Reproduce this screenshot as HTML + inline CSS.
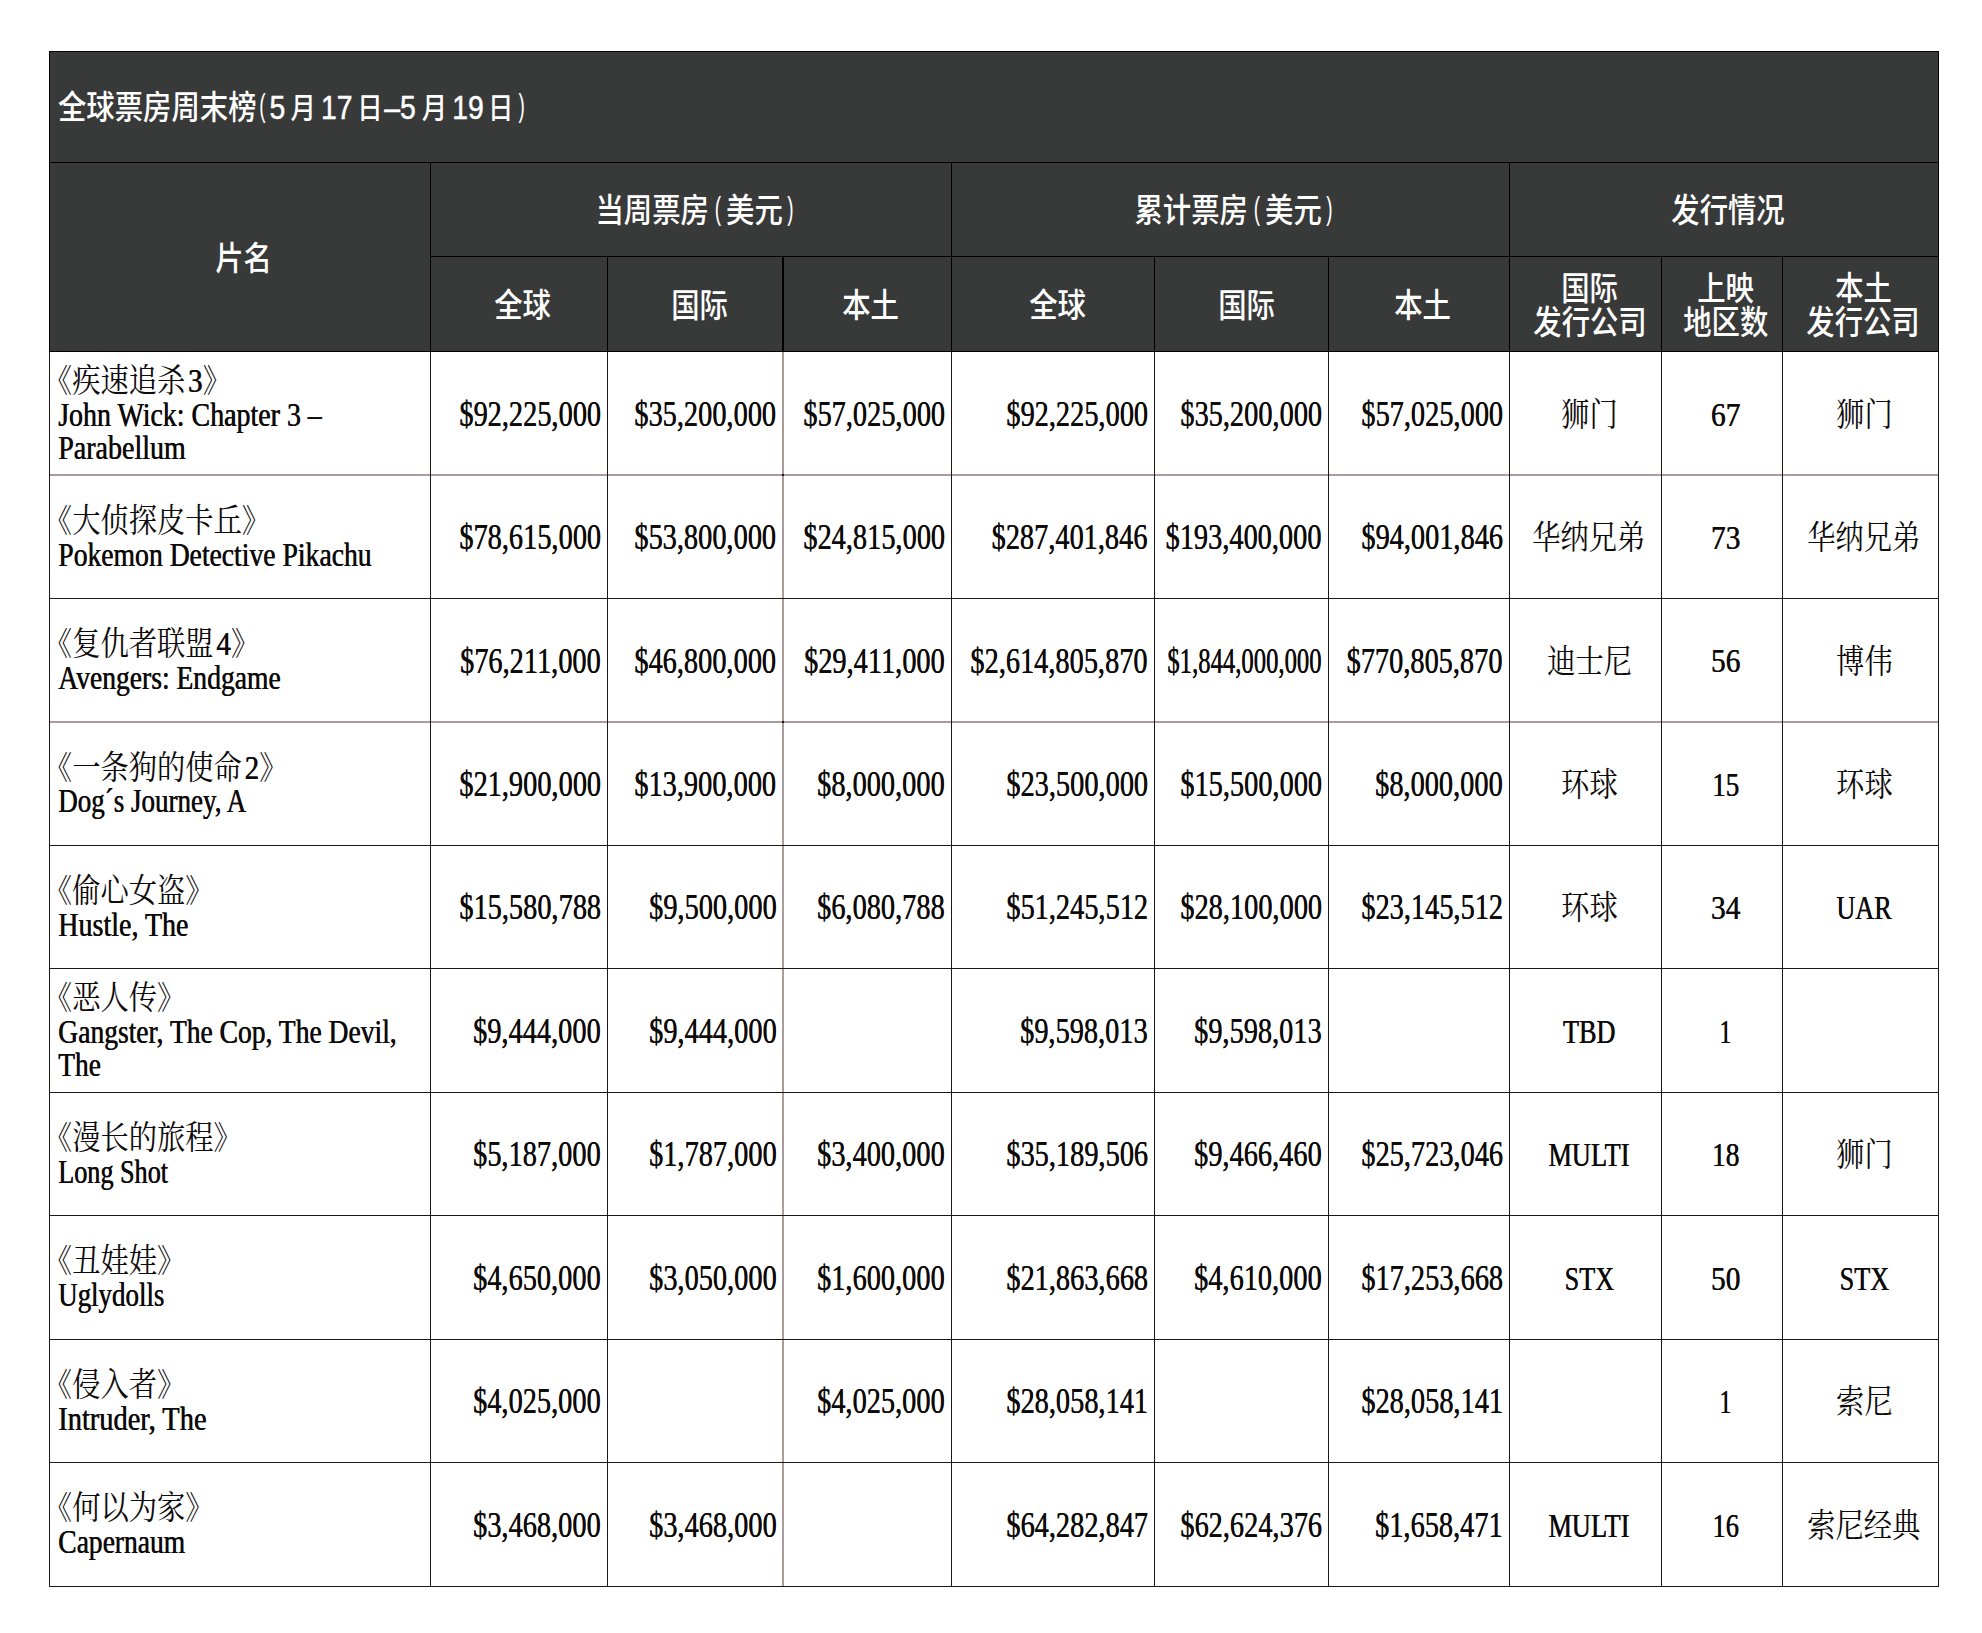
<!DOCTYPE html>
<html lang="zh-CN"><head><meta charset="utf-8"><title>全球票房周末榜</title>
<style>
html,body{margin:0;padding:0;background:#fff}
body{width:1982px;height:1633px;position:relative;overflow:hidden}
.l{position:absolute;background:#1c1818}
.k{position:absolute;background:#000}
.g{position:absolute;background:#aa9c9a}
.hb{position:absolute;background:#383a39}
.t{position:absolute;white-space:nowrap;height:33px;line-height:33px;font-size:33px;color:#0d0a0a;font-family:"Liberation Serif","Noto Serif CJK SC",serif}
.t span{display:inline-block;transform:scaleX(0.835);-webkit-text-stroke:0.0px #0d0a0a;text-shadow:0.6px 0 0 #0d0a0a}
.t b{font-weight:400;font-size:32.4px;line-height:0;font-family:"Noto Serif CJK SC",serif;font-feature-settings:"halt";-webkit-text-stroke:0;text-shadow:none}
.t span.z{transform:scaleX(0.873)}
.t span.z i{font-style:normal;margin:0 .5px 0 3px}
.n{font-size:34.8px}
.n span{transform:scaleX(0.8147);-webkit-text-stroke:0.15px #0d0a0a;text-shadow:0.3px 0 0 #0d0a0a}
.L{text-align:left}.L span{transform-origin:0 50%}
.R{text-align:right}.R span{transform-origin:100% 50%}
.C{text-align:center}.C span{transform-origin:50% 50%}
.h{position:absolute;white-space:nowrap;height:34px;line-height:34px;font-size:32.5px;color:#fff;text-align:center;font-family:"Liberation Sans","Noto Sans CJK SC",sans-serif;font-weight:500}
.h span{display:inline-block;transform:scaleX(0.873);transform-origin:50% 50%}
.h.L{text-align:left}.h.L span{transform-origin:0 50%}
.h i{display:inline-block}
.h u{text-decoration:none;position:relative;top:-3.5px;display:inline-block;transform:scaleX(.7);font-size:31px}
.h em{font-style:normal;-webkit-text-stroke:.5px #fff}
.h small{font-size:29px;margin:0 1.75px}
</style></head><body>
<div class="hb" style="left:49px;top:51px;width:1890px;height:301px"></div>
<div class="g" style="left:49px;top:474px;width:1890px;height:2px"></div>
<div class="g" style="left:49px;top:721px;width:1890px;height:2px"></div>
<div class="g" style="left:782px;top:352px;width:2px;height:1235px"></div>
<div class="k" style="left:49px;top:51px;width:1890px;height:1px"></div>
<div class="k" style="left:49px;top:162px;width:1890px;height:1px"></div>
<div class="k" style="left:430px;top:256px;width:1509px;height:1px"></div>
<div class="k" style="left:49px;top:351px;width:1890px;height:1px"></div>
<div class="l" style="left:49px;top:598px;width:1890px;height:1px"></div>
<div class="l" style="left:49px;top:845px;width:1890px;height:1px"></div>
<div class="l" style="left:49px;top:968px;width:1890px;height:1px"></div>
<div class="l" style="left:49px;top:1092px;width:1890px;height:1px"></div>
<div class="l" style="left:49px;top:1215px;width:1890px;height:1px"></div>
<div class="l" style="left:49px;top:1339px;width:1890px;height:1px"></div>
<div class="l" style="left:49px;top:1462px;width:1890px;height:1px"></div>
<div class="l" style="left:49px;top:1586px;width:1890px;height:1px"></div>
<div class="k" style="left:49px;top:51px;width:1px;height:301px"></div>
<div class="l" style="left:49px;top:352px;width:1px;height:1235px"></div>
<div class="k" style="left:430px;top:162px;width:1px;height:190px"></div>
<div class="l" style="left:430px;top:352px;width:1px;height:1235px"></div>
<div class="k" style="left:607px;top:256px;width:1px;height:96px"></div>
<div class="l" style="left:607px;top:352px;width:1px;height:1235px"></div>
<div class="k" style="left:782px;top:256px;width:2px;height:96px"></div>
<div class="k" style="left:951px;top:162px;width:1px;height:190px"></div>
<div class="l" style="left:951px;top:352px;width:1px;height:1235px"></div>
<div class="k" style="left:1154px;top:256px;width:1px;height:96px"></div>
<div class="l" style="left:1154px;top:352px;width:1px;height:1235px"></div>
<div class="k" style="left:1328px;top:256px;width:1px;height:96px"></div>
<div class="l" style="left:1328px;top:352px;width:1px;height:1235px"></div>
<div class="k" style="left:1509px;top:162px;width:1px;height:190px"></div>
<div class="l" style="left:1509px;top:352px;width:1px;height:1235px"></div>
<div class="k" style="left:1661px;top:256px;width:1px;height:96px"></div>
<div class="l" style="left:1661px;top:352px;width:1px;height:1235px"></div>
<div class="k" style="left:1782px;top:256px;width:1px;height:96px"></div>
<div class="l" style="left:1782px;top:352px;width:1px;height:1235px"></div>
<div class="k" style="left:1938px;top:51px;width:1px;height:301px"></div>
<div class="l" style="left:1938px;top:352px;width:1px;height:1235px"></div>
<div class="l" style="left:782px;top:474px;width:2px;height:2px"></div>
<div class="l" style="left:782px;top:721px;width:2px;height:2px"></div>
<div class="h L" style="left:58px;top:91.2px;width:800px"><span>全球票房周末榜<i style="width:1.1px"></i><u>(</u><i style="width:3.2px"></i><em>5</em><i style="width:4.5px"></i><small>月</small><i style="width:4.1px"></i><em>17</em><i style="width:3.7px"></i><small>日</small><em>–5</em><i style="width:5.1px"></i><small>月</small><i style="width:4.2px"></i><em>19</em><i style="width:3.0px"></i><small>日</small><i style="width:2.5px"></i><u>)</u></span></div>
<div class="h" style="left:-56.3px;top:241.8px;width:600px"><span>片名</span></div>
<div class="h" style="left:395.0px;top:194.2px;width:600px"><span>当周票房<i style="width:4.6px"></i><u>(</u><i style="width:4.6px"></i>美元<i style="width:3.1px"></i><u>)</u></span></div>
<div class="h" style="left:934.3px;top:194.2px;width:600px"><span>累计票房<i style="width:4.6px"></i><u>(</u><i style="width:4.6px"></i>美元<i style="width:3.1px"></i><u>)</u></span></div>
<div class="h" style="left:1427.6px;top:194.2px;width:600px"><span>发行情况</span></div>
<div class="h" style="left:222.9px;top:288.5px;width:600px"><span>全球</span></div>
<div class="h" style="left:399.5px;top:288.5px;width:600px"><span>国际</span></div>
<div class="h" style="left:570.7px;top:288.5px;width:600px"><span>本土</span></div>
<div class="h" style="left:757.3px;top:288.5px;width:600px"><span>全球</span></div>
<div class="h" style="left:946.2px;top:288.5px;width:600px"><span>国际</span></div>
<div class="h" style="left:1122.8px;top:288.5px;width:600px"><span>本土</span></div>
<div class="h" style="left:1290.0px;top:271.7px;width:600px"><span>国际</span></div>
<div class="h" style="left:1290.0px;top:305.7px;width:600px"><span>发行公司</span></div>
<div class="h" style="left:1426.0px;top:271.7px;width:600px"><span>上映</span></div>
<div class="h" style="left:1426.0px;top:305.7px;width:600px"><span>地区数</span></div>
<div class="h" style="left:1563.4px;top:271.7px;width:600px"><span>本土</span></div>
<div class="h" style="left:1563.4px;top:305.7px;width:600px"><span>发行公司</span></div>
<div class="t L" style="left:58.2px;top:364.7px;width:372px"><span class="z"><b>《疾速追杀</b><i>3</i><b>》</b></span></div>
<div class="t L" style="left:57.7px;top:398.5px;width:372px"><span style="transform:scaleX(0.846)">John Wick: Chapter 3 –</span></div>
<div class="t L" style="left:57.7px;top:431.5px;width:372px"><span style="transform:scaleX(0.848)">Parabellum</span></div>
<div class="t n R" style="left:300.7px;top:397.9px;width:300px"><span>$92,225,000</span></div>
<div class="t n R" style="left:476.2px;top:397.9px;width:300px"><span>$35,200,000</span></div>
<div class="t n R" style="left:644.7px;top:397.9px;width:300px"><span>$57,025,000</span></div>
<div class="t n R" style="left:847.7px;top:397.9px;width:300px"><span>$92,225,000</span></div>
<div class="t n R" style="left:1021.7px;top:397.9px;width:300px"><span>$35,200,000</span></div>
<div class="t n R" style="left:1202.7px;top:397.9px;width:300px"><span>$57,025,000</span></div>
<div class="t C" style="left:1389.1px;top:398.7px;width:400px"><span class="z"><b>狮门</b></span></div>
<div class="t C" style="left:1525.6px;top:398.5px;width:400px"><span style="transform:scaleX(0.89)">67</span></div>
<div class="t C" style="left:1664.1px;top:398.7px;width:400px"><span class="z"><b>狮门</b></span></div>
<div class="t L" style="left:58.2px;top:504.7px;width:372px"><span class="z"><b>《大侦探皮卡丘》</b></span></div>
<div class="t L" style="left:57.7px;top:538.5px;width:372px"><span style="transform:scaleX(0.838)">Pokemon Detective Pikachu</span></div>
<div class="t n R" style="left:300.7px;top:521.4px;width:300px"><span>$78,615,000</span></div>
<div class="t n R" style="left:476.2px;top:521.4px;width:300px"><span>$53,800,000</span></div>
<div class="t n R" style="left:644.7px;top:521.4px;width:300px"><span>$24,815,000</span></div>
<div class="t n R" style="left:847.7px;top:521.4px;width:300px"><span>$287,401,846</span></div>
<div class="t n R" style="left:1021.7px;top:521.4px;width:300px"><span>$193,400,000</span></div>
<div class="t n R" style="left:1202.7px;top:521.4px;width:300px"><span>$94,001,846</span></div>
<div class="t C" style="left:1389.1px;top:522.2px;width:400px"><span class="z"><b>华纳兄弟</b></span></div>
<div class="t C" style="left:1525.6px;top:522.0px;width:400px"><span style="transform:scaleX(0.89)">73</span></div>
<div class="t C" style="left:1664.1px;top:522.2px;width:400px"><span class="z"><b>华纳兄弟</b></span></div>
<div class="t L" style="left:58.2px;top:628.0px;width:372px"><span class="z"><b>《复仇者联盟</b><i>4</i><b>》</b></span></div>
<div class="t L" style="left:57.7px;top:661.8px;width:372px"><span style="transform:scaleX(0.836)">Avengers: Endgame</span></div>
<div class="t n R" style="left:300.7px;top:644.6px;width:300px"><span>$76,211,000</span></div>
<div class="t n R" style="left:476.2px;top:644.6px;width:300px"><span>$46,800,000</span></div>
<div class="t n R" style="left:644.7px;top:644.6px;width:300px"><span>$29,411,000</span></div>
<div class="t n R" style="left:847.7px;top:644.6px;width:300px"><span>$2,614,805,870</span></div>
<div class="t n R" style="left:1021.7px;top:644.6px;width:300px"><span style="transform:scaleX(0.709)">$1,844,000,000</span></div>
<div class="t n R" style="left:1202.7px;top:644.6px;width:300px"><span>$770,805,870</span></div>
<div class="t C" style="left:1389.1px;top:645.5px;width:400px"><span class="z"><b>迪士尼</b></span></div>
<div class="t C" style="left:1525.6px;top:645.2px;width:400px"><span style="transform:scaleX(0.89)">56</span></div>
<div class="t C" style="left:1664.1px;top:645.5px;width:400px"><span class="z"><b>博伟</b></span></div>
<div class="t L" style="left:58.2px;top:751.5px;width:372px"><span class="z"><b>《一条狗的使命</b><i>2</i><b>》</b></span></div>
<div class="t L" style="left:57.7px;top:785.2px;width:372px"><span style="transform:scaleX(0.818)">Dog´s Journey, A</span></div>
<div class="t n R" style="left:300.7px;top:768.1px;width:300px"><span>$21,900,000</span></div>
<div class="t n R" style="left:476.2px;top:768.1px;width:300px"><span>$13,900,000</span></div>
<div class="t n R" style="left:644.7px;top:768.1px;width:300px"><span>$8,000,000</span></div>
<div class="t n R" style="left:847.7px;top:768.1px;width:300px"><span>$23,500,000</span></div>
<div class="t n R" style="left:1021.7px;top:768.1px;width:300px"><span>$15,500,000</span></div>
<div class="t n R" style="left:1202.7px;top:768.1px;width:300px"><span>$8,000,000</span></div>
<div class="t C" style="left:1389.1px;top:769.0px;width:400px"><span class="z"><b>环球</b></span></div>
<div class="t C" style="left:1525.6px;top:768.8px;width:400px"><span style="transform:scaleX(0.82)">15</span></div>
<div class="t C" style="left:1664.1px;top:769.0px;width:400px"><span class="z"><b>环球</b></span></div>
<div class="t L" style="left:58.2px;top:874.7px;width:372px"><span class="z"><b>《偷心女盗》</b></span></div>
<div class="t L" style="left:57.7px;top:908.5px;width:372px"><span style="transform:scaleX(0.849)">Hustle, The</span></div>
<div class="t n R" style="left:300.7px;top:891.4px;width:300px"><span>$15,580,788</span></div>
<div class="t n R" style="left:476.2px;top:891.4px;width:300px"><span>$9,500,000</span></div>
<div class="t n R" style="left:644.7px;top:891.4px;width:300px"><span>$6,080,788</span></div>
<div class="t n R" style="left:847.7px;top:891.4px;width:300px"><span>$51,245,512</span></div>
<div class="t n R" style="left:1021.7px;top:891.4px;width:300px"><span>$28,100,000</span></div>
<div class="t n R" style="left:1202.7px;top:891.4px;width:300px"><span>$23,145,512</span></div>
<div class="t C" style="left:1389.1px;top:892.2px;width:400px"><span class="z"><b>环球</b></span></div>
<div class="t C" style="left:1525.6px;top:892.0px;width:400px"><span style="transform:scaleX(0.89)">34</span></div>
<div class="t C" style="left:1664.1px;top:892.0px;width:400px"><span style="transform:scaleX(0.795)">UAR</span></div>
<div class="t L" style="left:58.2px;top:981.7px;width:372px"><span class="z"><b>《恶人传》</b></span></div>
<div class="t L" style="left:57.7px;top:1015.5px;width:372px"><span>Gangster, The Cop, The Devil,</span></div>
<div class="t L" style="left:57.7px;top:1048.5px;width:372px"><span style="transform:scaleX(0.829)">The</span></div>
<div class="t n R" style="left:300.7px;top:1014.9px;width:300px"><span>$9,444,000</span></div>
<div class="t n R" style="left:476.2px;top:1014.9px;width:300px"><span>$9,444,000</span></div>
<div class="t n R" style="left:847.7px;top:1014.9px;width:300px"><span>$9,598,013</span></div>
<div class="t n R" style="left:1021.7px;top:1014.9px;width:300px"><span>$9,598,013</span></div>
<div class="t C" style="left:1389.1px;top:1015.5px;width:400px"><span style="transform:scaleX(0.795)">TBD</span></div>
<div class="t C" style="left:1525.6px;top:1015.5px;width:400px"><span style="transform:scaleX(0.72)">1</span></div>
<div class="t L" style="left:58.2px;top:1121.7px;width:372px"><span class="z"><b>《漫长的旅程》</b></span></div>
<div class="t L" style="left:57.7px;top:1155.5px;width:372px"><span style="transform:scaleX(0.793)">Long Shot</span></div>
<div class="t n R" style="left:300.7px;top:1138.4px;width:300px"><span>$5,187,000</span></div>
<div class="t n R" style="left:476.2px;top:1138.4px;width:300px"><span>$1,787,000</span></div>
<div class="t n R" style="left:644.7px;top:1138.4px;width:300px"><span>$3,400,000</span></div>
<div class="t n R" style="left:847.7px;top:1138.4px;width:300px"><span>$35,189,506</span></div>
<div class="t n R" style="left:1021.7px;top:1138.4px;width:300px"><span>$9,466,460</span></div>
<div class="t n R" style="left:1202.7px;top:1138.4px;width:300px"><span>$25,723,046</span></div>
<div class="t C" style="left:1389.1px;top:1139.0px;width:400px"><span style="transform:scaleX(0.8)">MULTI</span></div>
<div class="t C" style="left:1525.6px;top:1139.0px;width:400px"><span style="transform:scaleX(0.83)">18</span></div>
<div class="t C" style="left:1664.1px;top:1139.2px;width:400px"><span class="z"><b>狮门</b></span></div>
<div class="t L" style="left:58.2px;top:1245.2px;width:372px"><span class="z"><b>《丑娃娃》</b></span></div>
<div class="t L" style="left:57.7px;top:1279.0px;width:372px"><span style="transform:scaleX(0.815)">Uglydolls</span></div>
<div class="t n R" style="left:300.7px;top:1261.9px;width:300px"><span>$4,650,000</span></div>
<div class="t n R" style="left:476.2px;top:1261.9px;width:300px"><span>$3,050,000</span></div>
<div class="t n R" style="left:644.7px;top:1261.9px;width:300px"><span>$1,600,000</span></div>
<div class="t n R" style="left:847.7px;top:1261.9px;width:300px"><span>$21,863,668</span></div>
<div class="t n R" style="left:1021.7px;top:1261.9px;width:300px"><span>$4,610,000</span></div>
<div class="t n R" style="left:1202.7px;top:1261.9px;width:300px"><span>$17,253,668</span></div>
<div class="t C" style="left:1389.1px;top:1262.5px;width:400px"><span style="transform:scaleX(0.795)">STX</span></div>
<div class="t C" style="left:1525.6px;top:1262.5px;width:400px"><span style="transform:scaleX(0.89)">50</span></div>
<div class="t C" style="left:1664.1px;top:1262.5px;width:400px"><span style="transform:scaleX(0.795)">STX</span></div>
<div class="t L" style="left:58.2px;top:1368.7px;width:372px"><span class="z"><b>《侵入者》</b></span></div>
<div class="t L" style="left:57.7px;top:1402.5px;width:372px"><span style="transform:scaleX(0.861)">Intruder, The</span></div>
<div class="t n R" style="left:300.7px;top:1385.4px;width:300px"><span>$4,025,000</span></div>
<div class="t n R" style="left:644.7px;top:1385.4px;width:300px"><span>$4,025,000</span></div>
<div class="t n R" style="left:847.7px;top:1385.4px;width:300px"><span>$28,058,141</span></div>
<div class="t n R" style="left:1202.7px;top:1385.4px;width:300px"><span>$28,058,141</span></div>
<div class="t C" style="left:1525.6px;top:1386.0px;width:400px"><span style="transform:scaleX(0.72)">1</span></div>
<div class="t C" style="left:1664.1px;top:1386.2px;width:400px"><span class="z"><b>索尼</b></span></div>
<div class="t L" style="left:58.2px;top:1492.2px;width:372px"><span class="z"><b>《何以为家》</b></span></div>
<div class="t L" style="left:57.7px;top:1526.0px;width:372px"><span>Capernaum</span></div>
<div class="t n R" style="left:300.7px;top:1508.9px;width:300px"><span>$3,468,000</span></div>
<div class="t n R" style="left:476.2px;top:1508.9px;width:300px"><span>$3,468,000</span></div>
<div class="t n R" style="left:847.7px;top:1508.9px;width:300px"><span>$64,282,847</span></div>
<div class="t n R" style="left:1021.7px;top:1508.9px;width:300px"><span>$62,624,376</span></div>
<div class="t n R" style="left:1202.7px;top:1508.9px;width:300px"><span>$1,658,471</span></div>
<div class="t C" style="left:1389.1px;top:1509.5px;width:400px"><span style="transform:scaleX(0.8)">MULTI</span></div>
<div class="t C" style="left:1525.6px;top:1509.5px;width:400px"><span style="transform:scaleX(0.8)">16</span></div>
<div class="t C" style="left:1664.1px;top:1509.7px;width:400px"><span class="z"><b>索尼经典</b></span></div>
</body></html>
